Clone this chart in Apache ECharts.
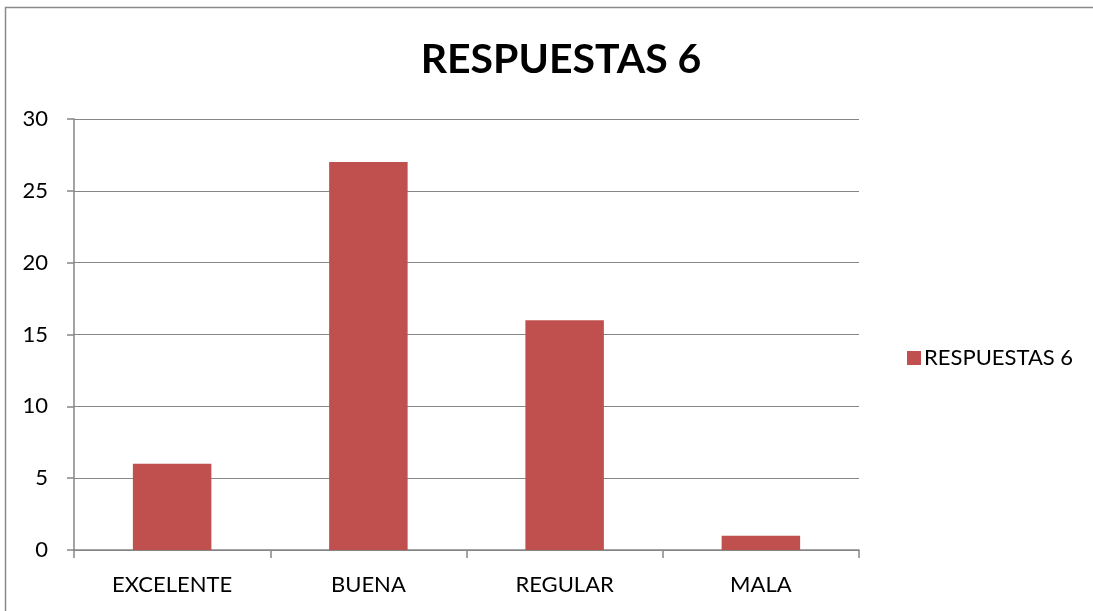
<!DOCTYPE html>
<html>
<head>
<meta charset="utf-8">
<script src="https://cdn.jsdelivr.net/npm/echarts@6/dist/echarts.min.js"></script>
<style>
  html, body { margin: 0; padding: 0; background: #fff; }
  #main { width: 1093px; height: 611px; }
</style>
</head>
<body>
<div id="main"></div>
<script>
var categories = ['EXCELENTE', 'BUENA', 'REGULAR', 'MALA'];
var values = [6, 27, 16, 1];
var seriesName = 'RESPUESTAS 6';

var chart = echarts.init(document.getElementById('main'));
var font = 'Lato';

var option = {
    backgroundColor: '#fff',
    title: {
        text: 'RESPUESTAS 6',
        left: 556,
        top: 34,
        textAlign: 'center',
        textStyle: { fontFamily: font, fontWeight: 'bold', fontSize: 41, color: '#000' }
    },
    legend: {
        orient: 'vertical',
        left: 902,
        top: 342,
        itemWidth: 14,
        itemHeight: 14,
        itemGap: 8,
        icon: 'rect',
        textStyle: { fontFamily: font, fontSize: 22, color: '#000', padding: [0, 0, 0, -2] },
        data: [seriesName]
    },
    graphic: [{
        type: 'rect',
        shape: { x: 5.5, y: 7.5, width: 1200, height: 700 },
        style: { fill: 'none', stroke: '#8a8a8a', lineWidth: 1.5 },
        silent: true
    }],
    grid: { left: 74, right: 234, top: 119, bottom: 61 },
    xAxis: {
        type: 'category',
        data: categories,
        axisLine: { lineStyle: { color: '#868686', width: 1.5 } },
        axisTick: { show: true, length: 8, alignWithLabel: false, lineStyle: { color: '#868686', width: 1.5 } },
        axisLabel: { fontFamily: font, fontSize: 22, color: '#000', margin: 24 }
    },
    yAxis: {
        type: 'value',
        min: 0,
        max: 30,
        interval: 5,
        axisLine: { show: true, lineStyle: { color: '#868686', width: 1.5 } },
        axisTick: { show: true, length: 7, lineStyle: { color: '#868686', width: 1.5 } },
        axisLabel: { fontFamily: font, fontSize: 22, color: '#000', margin: 26 },
        splitLine: { lineStyle: { color: '#868686', width: 1.2 } }
    },
    series: [{
        name: seriesName,
        type: 'bar',
        data: values,
        barWidth: '40%',
        itemStyle: { color: '#c0504d' }
    }]
};

chart.setOption(option);
</script>
</body>
</html>
